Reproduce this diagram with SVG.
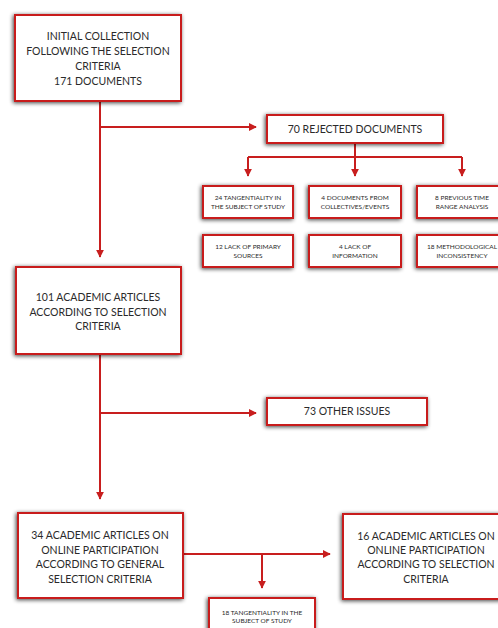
<svg xmlns="http://www.w3.org/2000/svg" width="498" height="628" viewBox="0 0 498 628">
<defs>
<filter id="sh" x="-20%" y="-30%" width="140%" height="160%">
<feGaussianBlur in="SourceAlpha" stdDeviation="2"/>
<feOffset dx="-1" dy="1" result="b"/>
<feComponentTransfer><feFuncA type="linear" slope="0.75"/></feComponentTransfer>
<feMerge><feMergeNode/><feMergeNode in="SourceGraphic"/></feMerge>
</filter>
<marker id="ah" viewBox="0 0 10 10" refX="9" refY="5" markerWidth="4" markerHeight="4" orient="auto" markerUnits="strokeWidth">
<path d="M0,0 L10,5 L0,10 z" fill="#c81e1e"/>
</marker>
</defs>
<style>
.b{fill:#fff;stroke:#c81e1e;stroke-width:2;filter:url(#sh)}
.c{fill:none;stroke:#c81e1e;stroke-width:2}
.a{marker-end:url(#ah)}
text{font-family:Lato,"Open Sans","Liberation Sans",sans-serif;fill:#2a2a2a;text-anchor:middle}
.t{font-size:10.5px}
.s{font-size:6.5px}
</style>
<rect width="498" height="628" fill="#fff"/>
<g id="connectors">
<path class="c a" d="M100,101 V257"/>
<path class="c a" d="M100,127 H256"/>
<path class="c" d="M355,143 V157 M248,157 H462"/>
<path class="c a" d="M248,157 V176"/>
<path class="c a" d="M355,157 V176"/>
<path class="c a" d="M462,157 V176"/>
<path class="c a" d="M100,354 V499"/>
<path class="c a" d="M100,413 H256"/>
<path class="c a" d="M183,554 H330"/>
<path class="c a" d="M262,554 V588"/>
</g>
<g id="n1"><rect class="b" x="15" y="15" width="166" height="86"/>
<text class="t" x="98" y="40">INITIAL COLLECTION</text>
<text class="t" x="98" y="55">FOLLOWING THE SELECTION</text>
<text class="t" x="98" y="70">CRITERIA</text>
<text class="t" x="98" y="85">171 DOCUMENTS</text></g>
<g id="n2"><rect class="b" x="267" y="115" width="176" height="28"/>
<text class="t" x="355" y="133">70 REJECTED DOCUMENTS</text></g>
<g id="n3"><rect class="b" x="203" y="186" width="90" height="32"/>
<text class="s" x="248" y="200">24 TANGENTIALITY IN</text>
<text class="s" x="248" y="209">THE SUBJECT OF STUDY</text></g>
<g id="n4"><rect class="b" x="309" y="186" width="92" height="32"/>
<text class="s" x="355" y="200">4 DOCUMENTS FROM</text>
<text class="s" x="355" y="209">COLLECTIVES/EVENTS</text></g>
<g id="n5"><rect class="b" x="417" y="186" width="92" height="32"/>
<text class="s" x="462" y="200">8 PREVIOUS TIME</text>
<text class="s" x="462" y="209">RANGE ANALYSIS</text></g>
<g id="n6"><rect class="b" x="203" y="235" width="90" height="32"/>
<text class="s" x="248" y="249">12 LACK OF PRIMARY</text>
<text class="s" x="248" y="258">SOURCES</text></g>
<g id="n7"><rect class="b" x="309" y="235" width="92" height="32"/>
<text class="s" x="355" y="249">4 LACK OF</text>
<text class="s" x="355" y="258">INFORMATION</text></g>
<g id="n8"><rect class="b" x="417" y="235" width="92" height="32"/>
<text class="s" x="462" y="249">18 METHODOLOGICAL</text>
<text class="s" x="462" y="258">INCONSISTENCY</text></g>
<g id="n9"><rect class="b" x="16" y="267" width="165" height="87"/>
<text class="t" x="98" y="301">101 ACADEMIC ARTICLES</text>
<text class="t" x="98" y="316">ACCORDING TO SELECTION</text>
<text class="t" x="98" y="330">CRITERIA</text></g>
<g id="n10"><rect class="b" x="267" y="398" width="160" height="27"/>
<text class="t" x="347" y="415">73 OTHER ISSUES</text></g>
<g id="n11"><rect class="b" x="18" y="513" width="165" height="85"/>
<text class="t" x="100" y="539">34 ACADEMIC ARTICLES ON</text>
<text class="t" x="100" y="554">ONLINE PARTICIPATION</text>
<text class="t" x="100" y="568">ACCORDING TO GENERAL</text>
<text class="t" x="100" y="583">SELECTION CRITERIA</text></g>
<g id="n12"><rect class="b" x="343" y="514" width="170" height="85"/>
<text class="t" x="426" y="540">16 ACADEMIC ARTICLES ON</text>
<text class="t" x="426" y="554">ONLINE PARTICIPATION</text>
<text class="t" x="426" y="568">ACCORDING TO SELECTION</text>
<text class="t" x="426" y="583">CRITERIA</text></g>
<g id="n13"><rect class="b" x="209" y="598" width="106" height="40"/>
<text class="s" x="262" y="615">18 TANGENTIALITY IN THE</text>
<text class="s" x="262" y="623">SUBJECT OF STUDY</text></g>
</svg>
